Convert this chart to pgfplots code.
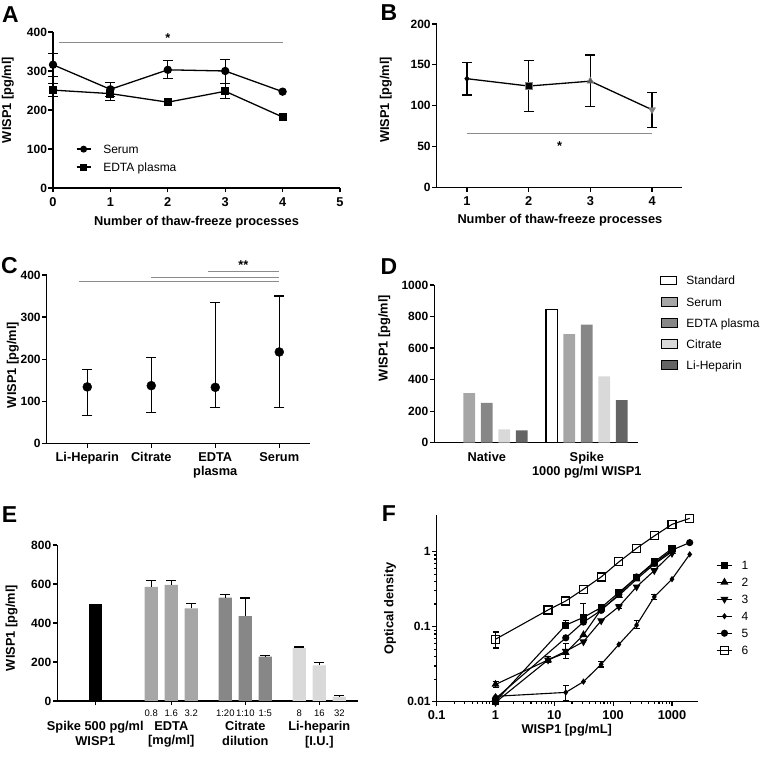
\documentclass[border=0pt]{standalone}
\usepackage{fontspec}
\setmainfont{Liberation Sans}
\usepackage{pgfplots}
\pgfplotsset{compat=1.18}

\definecolor{gSerum}{HTML}{A6A6A6}
\definecolor{gEDTA}{HTML}{878787}
\definecolor{gCitrate}{HTML}{D9D9D9}
\definecolor{gHep}{HTML}{646464}
\definecolor{sig}{HTML}{8C8C8C}

\newcommand{\tk}{\bfseries\fontsize{12.8}{14.4}\selectfont}
\newcommand{\tky}{\bfseries\fontsize{12}{14}\selectfont}
\newcommand{\lgd}{\mdseries\fontsize{12}{14}\selectfont}

\pgfplotsset{
  gp/.style={
    scale only axis,
    axis lines=left,
    axis line style={-, line width=1.3pt},
    every tick/.append style={black, line width=1.2pt},
    tick align=outside,
    major tick length=4.5pt,
    minor tick length=2.5pt,
    enlargelimits=false,
    clip=false,
    tick label style={font=\tk},
    yticklabel style={font=\tky, xshift=2pt},
    xticklabel style={yshift=-1.2pt},
    label style={font=\tk},
    /pgf/number format/assume math mode=true,
    /pgf/number format/1000 sep={},
    xlabel style={anchor=center},
    ylabel style={anchor=center},
    legend cell align=left,
  },
  errb/.style={forget plot, draw=none, mark=none,
    error bars/.cd, y dir=both, y explicit,
    error bar style={draw=black, line width=1.2pt},
    error mark options={draw=black, rotate=90, mark size=#1, line width=1.2pt}},
  errb/.default=5pt,
  errp/.style={error bars/.cd, y dir=plus, y explicit,
    error bar style={draw=black, line width=1.2pt},
    error mark options={draw=black, rotate=90, mark size=5pt, line width=1.2pt}},
  ln/.style={black, line width=1.3pt},
}

\begin{document}
\begin{tikzpicture}
\useasboundingbox (0,0) rectangle (761pt,758pt);

% ---------- A ----------
\begin{axis}[gp, at={(53pt,570pt)}, anchor=south west, width=287pt, height=156pt,
  xmin=0, xmax=5, ymin=0, ymax=400,
  xtick={0,1,2,3,4,5}, ytick={0,100,200,300,400},
  xlabel={Number of thaw-freeze processes},
  xlabel style={at={(axis description cs:0.5,0)}, yshift=-34pt},
  ylabel={WISP1 [pg/ml]},
  ylabel style={at={(axis description cs:-0.157,0.564)}},
  legend style={at={(axis description cs:0.069,0.292)}, anchor=north west,
    draw=none, fill=none, font=\lgd, row sep=9pt, column sep=12pt,
    nodes={inner sep=0pt, text height=9pt, text depth=0pt}},
  legend image code/.code={\draw[mark repeat=2, mark phase=2, #1, mark size=2.8pt] plot coordinates {(0pt,0pt) (7pt,0pt) (14pt,0pt)};},
]
\addplot[errb] coordinates {(0,316) += (0,29) -= (0,31) (1,253) += (0,17) -= (0,18)
  (2,303) += (0,24) -= (0,23) (3,300) += (0,30) -= (0,32)};
\addplot[errb] coordinates {(0,251) += (0,17) -= (0,16) (1,242) += (0,15) -= (0,17)
  (3,248) += (0,20) -= (0,18)};
\addplot[ln, mark=*, mark size=3.5pt] coordinates {(0,316) (1,253) (2,303) (3,300) (4,247)};
\addplot[ln, mark=square*, mark size=3.3pt] coordinates {(0,251) (1,242) (2,220) (3,248) (4,182)};
\legend{Serum, EDTA plasma}
\draw[sig, line width=1pt] (axis cs:0.1,372) -- (axis cs:4,372);
\node[font=\tk, anchor=south, inner sep=0pt] at (axis cs:2,372) {*};
\end{axis}

% ---------- B ----------
\begin{axis}[gp, at={(436.7pt,570.7pt)}, anchor=south west, width=245pt, height=163.3pt,
  xmin=0.51, xmax=4.48, ymin=0, ymax=200,
  xtick={1,2,3,4}, ytick={0,50,100,150,200},
  xlabel={Number of thaw-freeze processes},
  xlabel style={at={(axis description cs:0.503,0)}, yshift=-33pt},
  ylabel={WISP1 [pg/ml]},
  ylabel style={at={(axis description cs:-0.208,0.535)}},
]
\addplot[errb] coordinates {(1,133) += (0,20) -= (0,20) (2,124) += (0,31) -= (0,31)
  (3,130) += (0,32) -= (0,31) (4,95) += (0,21) -= (0,22)};
\addplot[ln] coordinates {(1,133) (2,124) (3,130) (4,95)};
\addplot[only marks, mark=diamond*, mark size=3pt, black] coordinates {(1,133)};
\addplot[only marks, mark=square*, mark size=3.5pt, draw=gray, fill=black, line width=1pt] coordinates {(2,124)};
\addplot[only marks, mark=triangle*, mark size=4pt, draw=gray, fill=gray!70!black] coordinates {(3,130)};
\addplot[only marks, mark=triangle*, mark size=4pt, mark options={rotate=180}, draw=gray, fill=gray] coordinates {(4,95)};
\draw[sig, line width=1pt] (axis cs:1,65.6) -- (axis cs:4,65.6);
\node[font=\tk, inner sep=0pt] at (axis cs:2.5,51) {*};
\end{axis}

% ---------- C ----------
\begin{axis}[gp, at={(46.7pt,314.7pt)}, anchor=south west, width=263.3pt, height=168.3pt,
  xmin=-0.634, xmax=3.48, ymin=0, ymax=400,
  xtick={0,1,2,3}, ytick={0,100,200,300,400},
  xticklabels={Li-Heparin, Citrate, {EDTA\\plasma}, Serum},
  xticklabel style={align=center},
  ylabel={WISP1 [pg/ml]},
  ylabel style={at={(axis description cs:-0.129,0.465)}},
]
\addplot[errb] coordinates {(0,134) += (0,41) -= (0,68) (1,137) += (0,66) -= (0,64)
  (2,133) += (0,202) -= (0,48) (3,217) += (0,133) -= (0,132)};
\addplot[only marks, mark=*, mark size=4.5pt, black] coordinates {(0,134) (1,137) (2,133) (3,217)};
\draw[sig, line width=1pt] (axis cs:-0.125,383.4) -- (axis cs:3,383.4);
\draw[sig, line width=1pt] (axis cs:1,395) -- (axis cs:3,395);
\draw[sig, line width=1pt] (axis cs:1.88,408.8) -- (axis cs:3,408.8);
\node[font=\tk, anchor=south, inner sep=0pt] at (axis cs:2.44,412) {**};
\end{axis}

% ---------- D ----------
\begin{axis}[gp, at={(434.3pt,315.3pt)}, anchor=south west, width=204pt, height=157.7pt,
  xmin=-0.525, xmax=1.515, ymin=0, ymax=1000,
  ybar=5.8pt, bar width=11.7pt,
  xtick={0,1}, ytick={0,200,400,600,800,1000},
  xticklabels={Native, {Spike\\1000 pg/ml WISP1}},
  xticklabel style={align=center},
  x tick style={draw=none},
  ylabel={WISP1 [pg/ml]},
  ylabel style={at={(axis description cs:-0.245,0.664)}},
  legend style={at={(axis description cs:1.092,1.073)}, anchor=north west,
    draw=none, fill=none, font=\lgd, row sep=12pt, column sep=9pt,
    nodes={inner sep=0pt, text height=9pt, text depth=0pt}},
  legend image code/.code={\draw[#1] (0pt,-4.2pt) rectangle (16pt,4.2pt);},
]
\addplot[fill=white, draw=black, line width=1.2pt] coordinates {(1,845)};
\addplot[fill=gSerum, draw=none] coordinates {(0,315) (1,688)};
\addplot[fill=gEDTA, draw=none] coordinates {(0,252) (1,748)};
\addplot[fill=gCitrate, draw=none] coordinates {(0,85) (1,420)};
\addplot[fill=gHep, draw=none] coordinates {(0,78) (1,270)};
\legend{Standard, Serum, EDTA plasma, Citrate, Li-Heparin}
\end{axis}

% ---------- E ----------
\begin{axis}[gp, at={(57.3pt,57pt)}, anchor=south west, width=301pt, height=156pt,
  xmin=0, xmax=15.05, ymin=0, ymax=800,
  ytick={0,200,400,600,800},
  xtick={1.9,5.7,9.4,13.1},
  xticklabels={{Spike 500 pg/ml\\WISP1}, {EDTA\\{[mg/ml]}}, {Citrate\\dilution}, {Li-heparin\\{[I.U.]}}},
  xticklabel style={align=center, yshift=-11.3pt},
  extra x ticks={4.7,5.7,6.7,8.4,9.4,10.4,12.1,13.1,14.1},
  extra x tick labels={0.8,1.6,3.2,1:20,1:10,1:5,8,16,32},
  extra x tick style={tick style={draw=none},
    tick label style={yshift=11.3pt, font=\mdseries\fontsize{9.5}{11}\selectfont}},
  ylabel={WISP1 [pg/ml]},
  ylabel style={at={(axis description cs:-0.1515,0.468)}},
]
\addplot[ybar, bar shift=0pt, bar width=13.3pt, fill=black, draw=none] coordinates {(1.9,500)};
\addplot[ybar, bar shift=0pt, bar width=13.3pt, fill=gSerum, draw=none, errp] coordinates {
  (4.7,585) +- (0,35) (5.7,595) +- (0,25) (6.7,475) +- (0,25)};
\addplot[ybar, bar shift=0pt, bar width=13.3pt, fill=gEDTA, draw=none, errp] coordinates {
  (8.4,530) +- (0,15) (9.4,435) +- (0,93) (10.4,228) +- (0,4)};
\addplot[ybar, bar shift=0pt, bar width=13.3pt, fill=gCitrate, draw=none, errp] coordinates {
  (12.1,272) +- (0,5) (13.1,183) +- (0,14) (14.1,22) +- (0,6)};
\end{axis}

% ---------- F ----------
\begin{axis}[gp, at={(436.7pt,56.3pt)}, anchor=south west, width=261.6pt, height=186.7pt,
  xmode=log, ymode=log, log ticks with fixed point,
  xmin=0.1, xmax=2800, ymin=0.01, ymax=3.08,
  xlabel={WISP1 [pg/mL]},
  xlabel style={at={(axis description cs:0.497,0)}, yshift=-28.3pt},
  ylabel={Optical density},
  ylabel style={at={(axis description cs:-0.1785,0.5)}},
  legend style={at={(axis description cs:1.057,0.767)}, anchor=north west,
    draw=none, fill=none, font=\lgd, row sep=8pt, column sep=9pt,
    nodes={inner sep=0pt, text height=9pt, text depth=0pt}},
  legend image code/.code={\draw[mark repeat=2, mark phase=2, #1] plot coordinates {(0pt,0pt) (7.5pt,0pt) (15pt,0pt)};},
]
\addplot[errb=3pt] coordinates {(1,0.068) += (0,0.017) -= (0,0.016)
  (15.625,0.105) += (0,0.017) -= (0,0.01) (31.25,0.133) += (0,0.072) -= (0,0.02)
  (15.625,0.046) += (0,0.014) -= (0,0.008) (7.8125,0.036) += (0,0.004) -= (0,0.003)
  (15.625,0.0133) += (0,0.0032) -= (0,0.003) (62.5,0.0315) += (0,0.0025) -= (0,0.0025)
  (250,0.105) += (0,0.015) -= (0,0.011) (500,0.25) += (0,0.02) -= (0,0.02)
  (125,0.185) += (0,0.01) -= (0,0.01) (1,0.017) += (0,0.0015) -= (0,0.0015)};
\addplot[black, line width=1.1pt, mark=square*, mark size=3pt] coordinates {
  (1,0.0101) (15.625,0.105) (31.25,0.133) (62.5,0.18) (125,0.285) (250,0.455) (500,0.73) (1000,1.1)};
\addplot[black, line width=1.1pt, mark=triangle*, mark size=3.5pt] coordinates {
  (1,0.017) (7.8125,0.036) (15.625,0.045) (31.25,0.078) (62.5,0.17) (125,0.26) (250,0.43) (500,0.68) (1000,1.0)};
\addplot[black, line width=1.1pt, mark=triangle*, mark size=3.5pt, mark options={rotate=180}] coordinates {
  (1,0.0098) (7.8125,0.036) (15.625,0.047) (31.25,0.063) (62.5,0.12) (125,0.185) (250,0.34) (500,0.56) (1000,0.95)};
\addplot[black, line width=1.1pt, mark=diamond*, mark size=2.3pt] coordinates {
  (1,0.0118) (15.625,0.0133) (31.25,0.0185) (62.5,0.0315) (125,0.058) (250,0.105) (500,0.25) (1000,0.43) (2000,0.92)};
\addplot[black, line width=1.1pt, mark=*, mark size=3pt] coordinates {
  (1,0.011) (15.625,0.071) (31.25,0.115) (62.5,0.165) (125,0.27) (250,0.46) (500,0.7) (1000,1.05) (2000,1.32)};
\addplot[black, line width=1.1pt, mark=square, mark size=4pt, mark options={fill=white, line width=1.1pt}] coordinates {
  (1,0.068) (7.8125,0.167) (15.625,0.22) (31.25,0.315) (62.5,0.46) (125,0.73) (250,1.11) (500,1.62) (1000,2.31) (2000,2.78)};
\legend{1,2,3,4,5,6}
\end{axis}

% panel letters
\node[font=\bfseries\fontsize{23}{26}\selectfont] at (10.5pt,743.5pt) {A};
\node[font=\bfseries\fontsize{23}{26}\selectfont] at (389pt,745pt) {B};
\node[font=\bfseries\fontsize{23}{26}\selectfont] at (9.5pt,492pt) {C};
\node[font=\bfseries\fontsize{23}{26}\selectfont] at (389pt,491pt) {D};
\node[font=\bfseries\fontsize{23}{26}\selectfont] at (9.5pt,243.5pt) {E};
\node[font=\bfseries\fontsize{23}{26}\selectfont] at (389pt,244pt) {F};
\end{tikzpicture}
\end{document}
